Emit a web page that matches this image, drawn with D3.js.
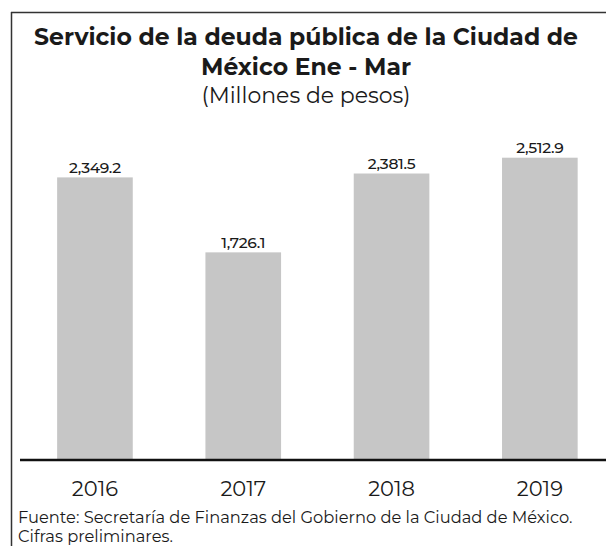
<!DOCTYPE html>
<html><head><meta charset="utf-8">
<script src="https://cdn.jsdelivr.net/npm/d3@7"></script>
<style>html,body{margin:0;padding:0;background:#fff;}</style>
</head><body>
<script>
const years = ["2016", "2017", "2018", "2019"];
const values = [2349.2, 1726.1, 2381.5, 2512.9];
const valueLabels = ["2,349.2", "1,726.1", "2,381.5", "2,512.9"];
const titleLines = ["Servicio de la deuda pública de la Ciudad de", "México Ene - Mar"];
const subtitle = "(Millones de pesos)";
const footer = ["Fuente: Secretaría de Finanzas del Gobierno de la Ciudad de México.", "Cifras preliminares."];

const W = 606, H = 546;
const svg = d3.select("body").append("svg").attr("width", W).attr("height", H);
const font = "Montserrat, 'Open Sans', sans-serif";

// frame
svg.append("line").attr("x1", 11).attr("x2", W).attr("y1", 12.5).attr("y2", 12.5).attr("stroke", "#333").attr("stroke-width", 1.5);
svg.append("line").attr("x1", 11.5).attr("x2", 11.5).attr("y1", 12).attr("y2", H).attr("stroke", "#333").attr("stroke-width", 1.5);

// titles
svg.selectAll("text.title").data(titleLines).enter().append("text")
  .attr("x", 306).attr("y", (d, i) => 45 + i * 30)
  .attr("text-anchor", "middle").attr("font-family", font).attr("font-weight", 700)
  .attr("font-size", 23.5).attr("fill", "#1a1a1a").text(d => d);
svg.append("text").attr("x", 306).attr("y", 103).attr("text-anchor", "middle")
  .attr("font-family", font).attr("font-size", 22).attr("fill", "#1a1a1a").text(subtitle);

const x = d3.scaleBand().domain(years).range([20.8, 614]).paddingInner(0.49).paddingOuter(0.245);
const y = d3.scaleLinear().domain([0, 2600]).range([460, 460 - 2600 * 0.1203]);

svg.selectAll("rect.bar").data(values).enter().append("rect")
  .attr("x", (d, i) => x(years[i])).attr("width", x.bandwidth())
  .attr("y", d => y(d)).attr("height", d => y(0) - y(d))
  .attr("fill", "#c6c6c6");

svg.selectAll("text.val").data(values).enter().append("text")
  .attr("x", (d, i) => x(years[i]) + x.bandwidth() / 2).attr("y", d => y(d) - 4.5)
  .attr("text-anchor", "middle").attr("font-family", font).attr("font-size", 15.5)
  .attr("font-weight", 500).attr("letter-spacing", -0.3)
  .attr("fill", "#1a1a1a").text((d, i) => valueLabels[i]);

// baseline
svg.append("line").attr("x1", 20).attr("x2", W).attr("y1", y(0)).attr("y2", y(0))
  .attr("stroke", "#111").attr("stroke-width", 2.5);

const xAxis = svg.append("g").attr("transform", `translate(0,${y(0)})`)
  .call(d3.axisBottom(x).tickSize(0).tickPadding(21));
xAxis.select(".domain").remove();
xAxis.selectAll("text").attr("font-family", font).attr("font-size", 21).attr("fill", "#1a1a1a");

svg.selectAll("text.foot").data(footer).enter().append("text")
  .attr("x", 18).attr("y", (d, i) => 523 + i * 19)
  .attr("font-family", font).attr("font-size", 16.3).attr("fill", "#1a1a1a").text(d => d);
</script>
</body></html>
